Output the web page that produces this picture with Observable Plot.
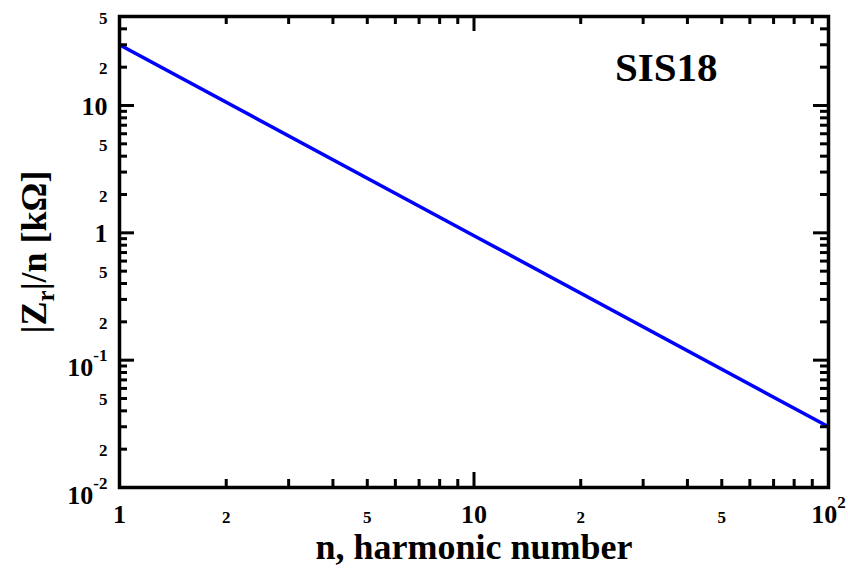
<!DOCTYPE html>
<html>
<head>
<meta charset="utf-8">
<script src="https://cdn.jsdelivr.net/npm/d3@7"></script>
<script src="https://cdn.jsdelivr.net/npm/@observablehq/plot@0.6"></script>
<style>
  html, body { margin: 0; padding: 0; background: #fff; }
  svg text { font-family: 'Liberation Serif', 'Times New Roman', Times, serif; }
</style>
</head>
<body>
<div id="chart"></div>
<script>
// ---- data ----
const harmonic = [1, 10, 100];
const impedance = [30, 0.95, 0.03];   // |Z_r|/n in kOhm

const xMajor = [1, 10, 100];
const xMajorLabels = ["1", "10", "10^2"];
const xMinor = [2, 3, 4, 5, 6, 7, 8, 9, 20, 30, 40, 50, 60, 70, 80, 90];
const xMinorLabelValues = [2, 5, 20, 50];
const xMinorLabels = ["2", "5", "2", "5"];

const yMajor = [0.01, 0.1, 1, 10];
const yMajorPlain = [1, 10];
const yMajorPlainLabels = ["1", "10"];
const yMajorSup = [0.01, 0.1];
const yMajorSupLabels = ["10^-2", "10^-1"];
const yMinor = [0.02, 0.03, 0.04, 0.05, 0.06, 0.07, 0.08, 0.09,
                0.2, 0.3, 0.4, 0.5, 0.6, 0.7, 0.8, 0.9,
                2, 3, 4, 5, 6, 7, 8, 9, 20, 30, 40];
const yMinorLabelValues = [0.02, 0.05, 0.2, 0.5, 2, 5, 20, 50];
const yMinorLabels = ["2", "5", "2", "5", "2", "5", "2", "5"];

const xTitle = "n, harmonic number";
const yTitle = "|Z_r|/n [kΩ]";
const annotation = "SIS18";

const data = harmonic.map((n, i) => ({n, z: impedance[i]}));

// ---- layout ----
const W = 848, H = 570;
const mL = 119, mR = 20, mT = 16, mB = 83;
const pw = W - mL - mR, ph = H - mT - mB;
const majLen = 15, minLen = 8;
const font = "'Liberation Serif', 'Times New Roman', Times, serif";
const txt = {fontFamily: font, fontWeight: "bold", fill: "#000"};

const chart = Plot.plot({
  width: W, height: H,
  marginLeft: mL, marginRight: mR, marginTop: mT, marginBottom: mB,
  style: {background: "#fff", fontFamily: font, color: "#000"},
  x: {type: "log", domain: [1, 100], axis: null},
  y: {type: "log", domain: [0.01, 50], axis: null},
  marks: [
    Plot.line(data, {x: "n", y: "z", stroke: "#0000ff", strokeWidth: 3.5, clip: true}),
    // ticks bottom / top
    Plot.tickX(xMajor, {x: d => d, insetTop: ph - majLen, stroke: "#000", strokeWidth: 3}),
    Plot.tickX(xMajor, {x: d => d, insetBottom: ph - majLen, stroke: "#000", strokeWidth: 3}),
    Plot.tickX(xMinor, {x: d => d, insetTop: ph - minLen, stroke: "#000", strokeWidth: 3}),
    Plot.tickX(xMinor, {x: d => d, insetBottom: ph - minLen, stroke: "#000", strokeWidth: 3}),
    // ticks left / right
    Plot.tickY(yMajor, {y: d => d, insetRight: pw - majLen, stroke: "#000", strokeWidth: 3}),
    Plot.tickY(yMajor, {y: d => d, insetLeft: pw - majLen, stroke: "#000", strokeWidth: 3}),
    Plot.tickY(yMinor, {y: d => d, insetRight: pw - minLen, stroke: "#000", strokeWidth: 3}),
    Plot.tickY(yMinor, {y: d => d, insetLeft: pw - minLen, stroke: "#000", strokeWidth: 3}),
    Plot.frame({stroke: "#000", strokeWidth: 3.5}),
    // x tick labels
    Plot.text(xMajor, {x: d => d, text: (d, i) => xMajorLabels[i], frameAnchor: "bottom",
      lineAnchor: "bottom", dy: 35, fontSize: 26, ...txt}),
    Plot.text(xMinorLabelValues, {x: d => d, text: (d, i) => xMinorLabels[i], frameAnchor: "bottom",
      lineAnchor: "bottom", dy: 35, fontSize: 17, ...txt}),
    // y tick labels
    Plot.text(yMajorPlain, {y: d => d, text: (d, i) => yMajorPlainLabels[i], frameAnchor: "left",
      textAnchor: "end", lineAnchor: "bottom", dx: -12, dy: 9, fontSize: 26, ...txt}),
    Plot.text(yMajorSup, {y: d => d, text: (d, i) => yMajorSupLabels[i], frameAnchor: "left",
      textAnchor: "end", lineAnchor: "bottom", dx: -12, dy: 16, fontSize: 26, ...txt}),
    Plot.text(yMinorLabelValues, {y: d => d, text: (d, i) => yMinorLabels[i], frameAnchor: "left",
      textAnchor: "end", lineAnchor: "bottom", dx: -12, dy: 7, fontSize: 17, ...txt}),
    // titles
    Plot.text([xTitle], {text: d => d, frameAnchor: "bottom", lineAnchor: "bottom", dy: 71,
      fontSize: 36, ...txt}),
    Plot.text([yTitle], {text: d => d, frameAnchor: "left", rotate: -90, lineAnchor: "bottom",
      textAnchor: "middle", dx: -74, fontSize: 36, ...txt}),
    Plot.text([annotation], {text: d => d, frameAnchor: "top-right", textAnchor: "end", lineAnchor: "bottom",
      dx: -111, dy: 64, fontSize: 41, ...txt})
  ]
});

// superscripts / subscripts as real text
const NS = "http://www.w3.org/2000/svg";
chart.querySelectorAll("text").forEach(t => {
  const s = t.textContent;
  if (s.includes("^")) {
    const [base, exp] = s.split("^");
    t.textContent = base;
    const sup = document.createElementNS(NS, "tspan");
    sup.setAttribute("dy", "-15");
    sup.setAttribute("font-size", "17");
    sup.textContent = exp;
    t.appendChild(sup);
  } else if (s.includes("_")) {
    const m = s.match(/^(.*?)_(\w)(.*)$/);
    t.textContent = "";
    const a = document.createElementNS(NS, "tspan");
    a.textContent = m[1];
    const b = document.createElementNS(NS, "tspan");
    b.setAttribute("dy", "8");
    b.setAttribute("font-size", "25");
    b.textContent = m[2];
    const c = document.createElementNS(NS, "tspan");
    c.setAttribute("dy", "-8");
    c.textContent = m[3];
    t.append(a, b, c);
  }
});

document.getElementById("chart").appendChild(chart);
</script>
</body>
</html>
